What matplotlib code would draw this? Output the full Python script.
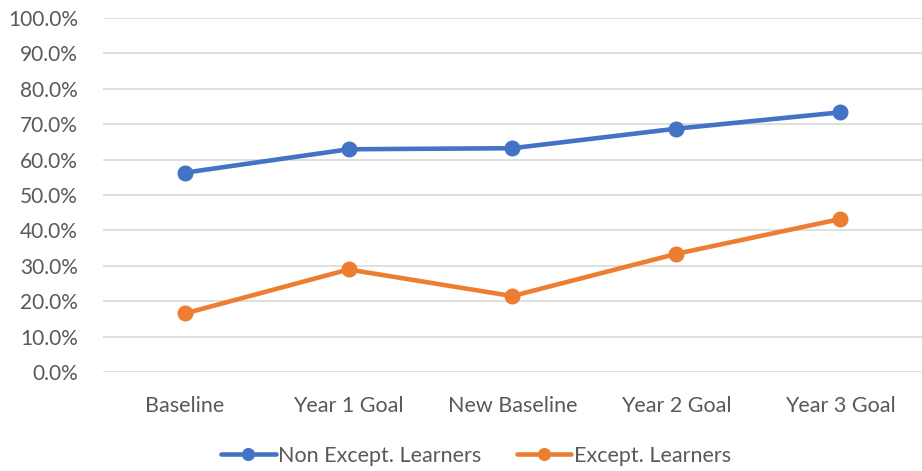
import matplotlib
matplotlib.use("Agg")
import matplotlib.pyplot as plt
from matplotlib.ticker import FuncFormatter, MultipleLocator

categories = ["Baseline", "Year 1 Goal", "New Baseline", "Year 2 Goal", "Year 3 Goal"]
non_except = [0.563, 0.629, 0.632, 0.687, 0.733]
except_learners = [0.166, 0.290, 0.215, 0.334, 0.432]

plt.rcParams['font.family'] = ['Lato', 'DejaVu Sans']
text_color = '#595959'

fig = plt.figure(figsize=(9.22, 4.71), dpi=100)
ax = fig.add_axes([0.1117, 0.2095, 0.888, 0.7529])

x = list(range(len(categories)))
ax.plot(x, non_except, color='#4472C4', lw=3.3, marker='o', ms=10.5,
        label='Non Except. Learners', solid_capstyle='round')
ax.plot(x, except_learners, color='#ED7D31', lw=3.3, marker='o', ms=10.5,
        label='Except. Learners', solid_capstyle='round')

ax.set_xlim(-0.5, len(categories) - 0.5)
ax.set_ylim(0, 1.0)
ax.yaxis.set_major_locator(MultipleLocator(0.1))
ax.yaxis.set_major_formatter(FuncFormatter(lambda v, p: f"{v*100:.1f}%"))
ax.set_xticks(x)
ax.set_xticklabels(categories)
ax.grid(axis='y', color='#D9D9D9', lw=1.2)
ax.set_axisbelow(True)
for s in ax.spines.values():
    s.set_visible(False)
ax.tick_params(axis='x', length=0, labelsize=15.5, colors=text_color, pad=17)
ax.tick_params(axis='y', length=0, labelsize=15, colors=text_color, pad=18)

leg = fig.legend(loc='center', bbox_to_anchor=(0.516, 0.032), ncol=2, frameon=False,
                 fontsize=15.5, handlelength=2.55, handletextpad=0.1, columnspacing=1.65,
                 markerscale=0.8)
for t in leg.get_texts():
    t.set_color(text_color)

fig.savefig('out.png', dpi=100)
